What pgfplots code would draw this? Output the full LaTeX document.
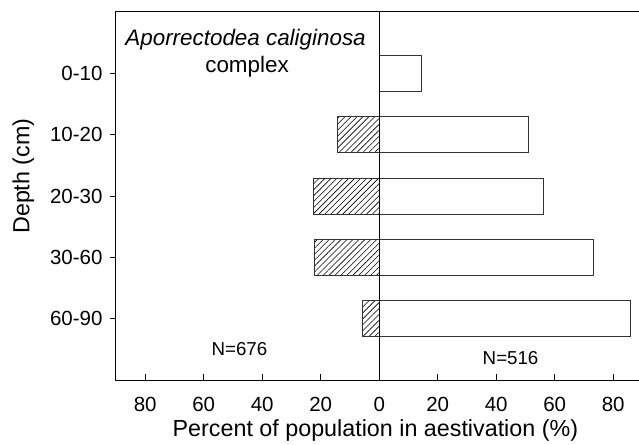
\documentclass[border=0pt]{standalone}
\usepackage{fontspec}
\setmainfont{Liberation Sans}
\usepackage{pgfplots}
\pgfplotsset{compat=1.18}
\usetikzlibrary{patterns.meta}
\newcommand{\fs}{\fontsize{20.5}{24}\selectfont}
\newcommand{\fl}{\fontsize{23.3}{27}\selectfont}
\newcommand{\ft}{\fontsize{22.4}{26}\selectfont}
\newcommand{\fn}{\fontsize{18.7}{22}\selectfont}
\begin{document}
\begin{tikzpicture}
\begin{axis}[
  scale only axis, width=529.4pt, height=368pt,
  xmin=-90, xmax=91, ymin=0, ymax=6,
  xtick={-80,-60,-40,-20,0,20,40,60,80},
  xticklabels={80,60,40,20,0,20,40,60,80},
  ytick={1,2,3,4,5},
  yticklabels={60-90,30-60,20-30,10-20,0-10},
  xtick pos=bottom, ytick pos=left,
  xtick align=inside, ytick align=outside,
  major tick length=6pt,
  tick style={line width=0.8pt, black},
  axis line style={line width=1pt, black},
  tick label style={font=\fs},
  xticklabel style={yshift=-14pt},
  yticklabel style={xshift=-4pt},
  label style={font=\fl},
  xlabel={Percent of population in aestivation (\%)},
  ylabel={Depth (cm)},
  xlabel style={at={(ticklabel cs:0.49,1pt)}},
  ylabel style={at={(ticklabel cs:0.554,9pt)}},
]
\addplot[xbar, bar width=36pt, bar shift=0pt, draw=black!80, line width=0.8pt, fill=white]
  coordinates {(14.5,5) (51,4) (56.2,3) (73.3,2) (86,1)};
\addplot[xbar, bar width=36pt, bar shift=0pt, draw=black!80, line width=0.8pt,
  pattern={Lines[angle=45,distance=4.2pt,line width=0.6pt]}]
  coordinates {(-14.4,4) (-22.5,3) (-22.2,2) (-5.8,1)};
\addplot[black, line width=1pt] coordinates {(0,0) (0,6)};
\node[font=\itshape\ft, anchor=base] at (axis cs:-45.7,5.446) {Aporrectodea caliginosa};
\node[font=\ft, anchor=base] at (axis cs:-45.2,5.01) {complex};
\node[font=\fn, anchor=base] at (axis cs:-47.8,0.407) {N=676};
\node[font=\fn, anchor=base] at (axis cs:44.9,0.26) {N=516};
\coordinate (sw) at (rel axis cs:0,0);
\end{axis}
\pgfresetboundingbox
\path (sw) ++(-116pt,-64pt) rectangle ++(639pt,444pt);
\end{tikzpicture}
\end{document}
